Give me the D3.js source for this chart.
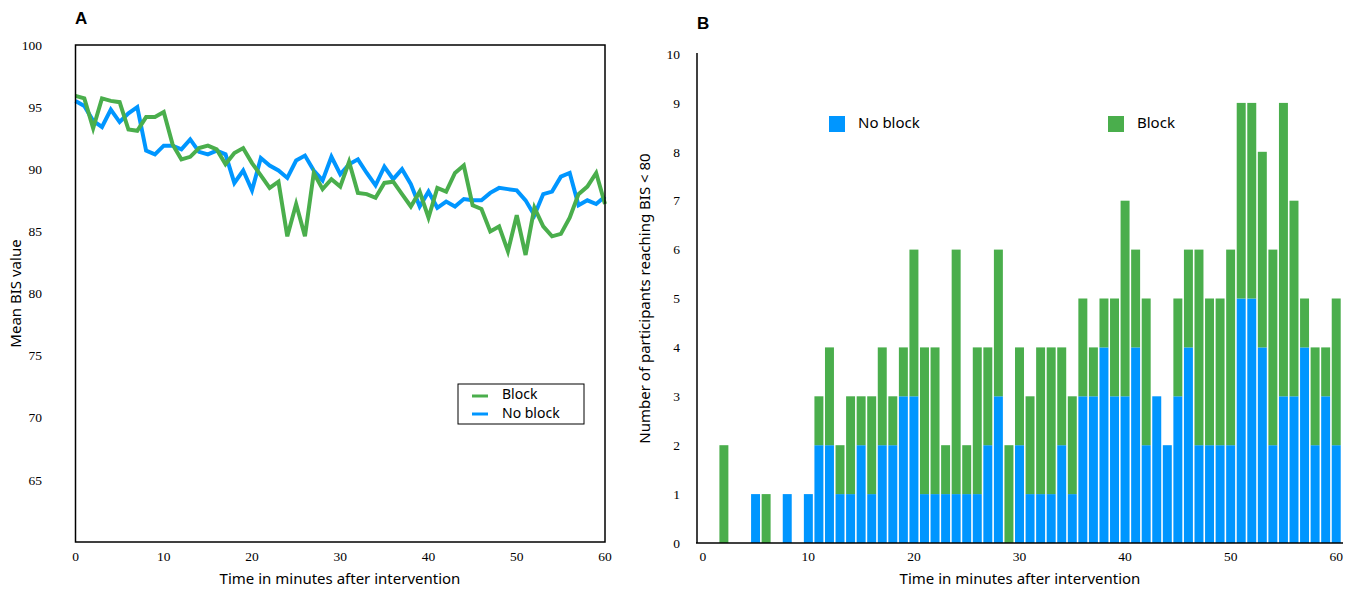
<!DOCTYPE html>
<html>
<head>
<meta charset="utf-8">
<script src="https://cdn.jsdelivr.net/npm/d3@7"></script>
<style>
  body { margin: 0; background: #fff; }
  svg { display: block; }
  .tick-label { font-family: "Liberation Serif", serif; font-size: 13.5px; fill: #000; }
  .title { font-family: "Noto Sans", sans-serif; font-size: 15px; fill: #000; }
</style>
</head>
<body>
<div id="chart"></div>
<script>
// panel A: mean BIS value per minute
var minutes = d3.range(0, 61);
var blockBIS = [95.9, 95.7, 93.3, 95.7, 95.5, 95.4, 93.2, 93.1, 94.2, 94.2, 94.6,
  92.0, 90.8, 91.0, 91.7, 91.9, 91.6, 90.4, 91.3, 91.7, 90.5,
  89.5, 88.5, 89.0, 84.6, 87.2, 84.6, 89.7, 88.4, 89.2, 88.6,
  90.6, 88.1, 88.0, 87.7, 88.9, 89.0, 88.0, 87.0, 88.2, 86.1,
  88.5, 88.2, 89.7, 90.3, 87.1, 86.8, 85.0, 85.4, 83.4, 86.3,
  83.1, 86.9, 85.4, 84.6, 84.8, 86.1, 88.0, 88.6, 89.7, 87.2];
var noBlockBIS = [95.5, 95.1, 93.9, 93.4, 94.8, 93.8, 94.5, 95.0, 91.5, 91.2, 91.9,
  91.9, 91.6, 92.4, 91.4, 91.2, 91.5, 91.2, 88.9, 89.9, 88.3,
  90.9, 90.3, 89.9, 89.3, 90.7, 91.1, 89.9, 89.1, 91.0, 89.6,
  90.4, 90.8, 89.7, 88.7, 90.2, 89.2, 90.0, 88.8, 87.0, 88.2,
  86.9, 87.4, 87.0, 87.6, 87.5, 87.5, 88.1, 88.5, 88.4, 88.3,
  87.5, 86.3, 88.0, 88.2, 89.4, 89.7, 87.1, 87.5, 87.2, 87.8];
var bisTicks = [65, 70, 75, 80, 85, 90, 95, 100];
var timeTicks = [0, 10, 20, 30, 40, 50, 60];

// panel B: participants reaching BIS < 80 per minute
var noBlockCount = [0, 0, 0, 0, 0, 1, 0, 0, 1, 0, 1,
  2, 2, 1, 1, 2, 1, 2, 2, 3, 3,
  1, 1, 1, 1, 1, 1, 2, 3, 0, 2,
  1, 1, 1, 2, 1, 3, 3, 4, 3, 3,
  4, 2, 3, 2, 3, 4, 2, 2, 2, 2,
  5, 5, 4, 2, 3, 3, 4, 2, 3, 2];
var blockCount = [0, 0, 2, 0, 0, 0, 1, 0, 0, 0, 0,
  1, 2, 1, 2, 1, 2, 2, 1, 1, 3,
  3, 3, 1, 5, 1, 3, 2, 3, 2, 2,
  2, 3, 3, 2, 2, 2, 1, 1, 2, 4,
  2, 3, 0, 0, 2, 2, 4, 3, 3, 4,
  4, 4, 4, 4, 6, 4, 1, 2, 1, 3];
var countTicks = d3.range(0, 11);

var green = '#4aae4c', blue = '#0096ff';

var svg = d3.select('#chart').append('svg')
  .attr('width', 1356)
  .attr('height', 590);

// ---------- panel A ----------
var xA = d3.scaleLinear().domain([0, 60]).range([75.5, 605]);
var yA = d3.scaleLinear().domain([60, 100]).range([542, 45]);

var gA = svg.append('g');

gA.append('text')
  .attr('x', 75).attr('y', 24)
  .style('font-family', '"Liberation Sans Narrow", "Liberation Sans", sans-serif')
  .style('font-weight', 'bold')
  .style('font-size', '17px')
  .text('A');

var lineA = function(vals) {
  return d3.line()
    .x(function(d, i) { return xA(minutes[i]); })
    .y(function(d) { return yA(d); })(vals);
};

gA.append('path')
  .attr('d', lineA(noBlockBIS))
  .attr('fill', 'none')
  .attr('stroke', blue)
  .attr('stroke-width', 4)
  .attr('stroke-linejoin', 'miter');

gA.append('path')
  .attr('d', lineA(blockBIS))
  .attr('fill', 'none')
  .attr('stroke', green)
  .attr('stroke-width', 4)
  .attr('stroke-linejoin', 'miter');

gA.append('rect')
  .attr('x', xA(0)).attr('y', yA(100))
  .attr('width', xA(60) - xA(0))
  .attr('height', yA(60) - yA(100))
  .attr('fill', 'none')
  .attr('stroke', '#000')
  .attr('stroke-width', 1.5);

gA.selectAll('.ylab').data(bisTicks)
  .enter().append('text')
  .attr('class', 'tick-label')
  .attr('x', 42)
  .attr('y', function(d) { return yA(d); })
  .attr('dy', '0.35em')
  .attr('text-anchor', 'end')
  .text(function(d) { return d; });

gA.selectAll('.xlab').data(timeTicks)
  .enter().append('text')
  .attr('class', 'tick-label')
  .attr('x', function(d) { return xA(d); })
  .attr('y', 561)
  .attr('text-anchor', 'middle')
  .text(function(d) { return d; });

gA.append('text')
  .attr('class', 'title')
  .attr('x', 340).attr('y', 584)
  .attr('text-anchor', 'middle')
  .text('Time in minutes after intervention');

gA.append('text')
  .attr('class', 'title')
  .attr('transform', 'translate(21,' + ((yA(60) + yA(100)) / 2) + ') rotate(-90)')
  .attr('text-anchor', 'middle')
  .text('Mean BIS value');

// legend A
var legA = gA.append('g').attr('transform', 'translate(458,384)');
legA.append('rect')
  .attr('width', 126).attr('height', 40)
  .attr('fill', '#fff')
  .attr('stroke', '#000')
  .attr('stroke-width', 1);
[['Block', green], ['No block', blue]].forEach(function(d, i) {
  legA.append('line')
    .attr('x1', 14).attr('x2', 30)
    .attr('y1', 12 + i * 18).attr('y2', 12 + i * 18)
    .attr('stroke', d[1]).attr('stroke-width', 3);
  legA.append('text')
    .attr('class', 'title')
    .style('font-size', '14px')
    .attr('x', 44).attr('y', 10 + i * 19)
    .attr('dy', '0.35em')
    .text(d[0]);
});

// ---------- panel B ----------
var xB = d3.scaleBand().domain(minutes).range([697.5, 1341.5]).paddingInner(0.15).paddingOuter(0.075);
var yB = d3.scaleLinear().domain([0, 10]).range([543, 54]);

var gB = svg.append('g');

gB.append('text')
  .attr('x', 697).attr('y', 29)
  .style('font-family', '"Liberation Sans Narrow", "Liberation Sans", sans-serif')
  .style('font-weight', 'bold')
  .style('font-size', '17px')
  .text('B');

var stackData = minutes.map(function(m, i) {
  return { minute: m, noBlock: noBlockCount[i], block: blockCount[i] };
});
var series = d3.stack().keys(['noBlock', 'block'])(stackData);
var colors = { noBlock: blue, block: green };

gB.selectAll('g.series').data(series)
  .enter().append('g')
  .attr('class', 'series')
  .attr('fill', function(s) { return colors[s.key]; })
  .selectAll('rect').data(function(s) { return s.filter(function(d) { return d[1] > d[0]; }); })
  .enter().append('rect')
    .attr('x', function(d) { return xB(d.data.minute); })
    .attr('width', xB.bandwidth())
    .attr('y', function(d) { return yB(d[1]); })
    .attr('height', function(d) { return yB(d[0]) - yB(d[1]); });

// axes lines
gB.append('line')
  .attr('x1', 697).attr('x2', 697)
  .attr('y1', 53).attr('y2', yB(0))
  .attr('stroke', '#000').attr('stroke-width', 1.5);
gB.append('line')
  .attr('x1', 696).attr('x2', 1343)
  .attr('y1', yB(0)).attr('y2', yB(0))
  .attr('stroke', '#000').attr('stroke-width', 1.5);

gB.selectAll('.ylab').data(countTicks)
  .enter().append('text')
  .attr('class', 'tick-label')
  .attr('x', 680)
  .attr('y', function(d) { return yB(d); })
  .attr('dy', '0.35em')
  .attr('text-anchor', 'end')
  .text(function(d) { return d; });

gB.selectAll('.xlab').data(timeTicks)
  .enter().append('text')
  .attr('class', 'tick-label')
  .attr('x', function(d) { return xB(d) + xB.bandwidth() / 2; })
  .attr('y', 561)
  .attr('text-anchor', 'middle')
  .text(function(d) { return d; });

gB.append('text')
  .attr('class', 'title')
  .attr('x', 1020).attr('y', 584)
  .attr('text-anchor', 'middle')
  .text('Time in minutes after intervention');

gB.append('text')
  .attr('class', 'title')
  .attr('transform', 'translate(650,' + ((yB(0) + yB(10)) / 2) + ') rotate(-90)')
  .attr('text-anchor', 'middle')
  .text('Number of participants reaching BIS < 80');

// legend B
[['No block', blue, 829], ['Block', green, 1108]].forEach(function(d) {
  gB.append('rect')
    .attr('x', d[2]).attr('y', 116)
    .attr('width', 16).attr('height', 16)
    .attr('fill', d[1]);
  gB.append('text')
    .attr('class', 'title')
    .attr('x', d[2] + 29).attr('y', 123)
    .attr('dy', '0.35em')
    .text(d[0]);
});
</script>
</body>
</html>
